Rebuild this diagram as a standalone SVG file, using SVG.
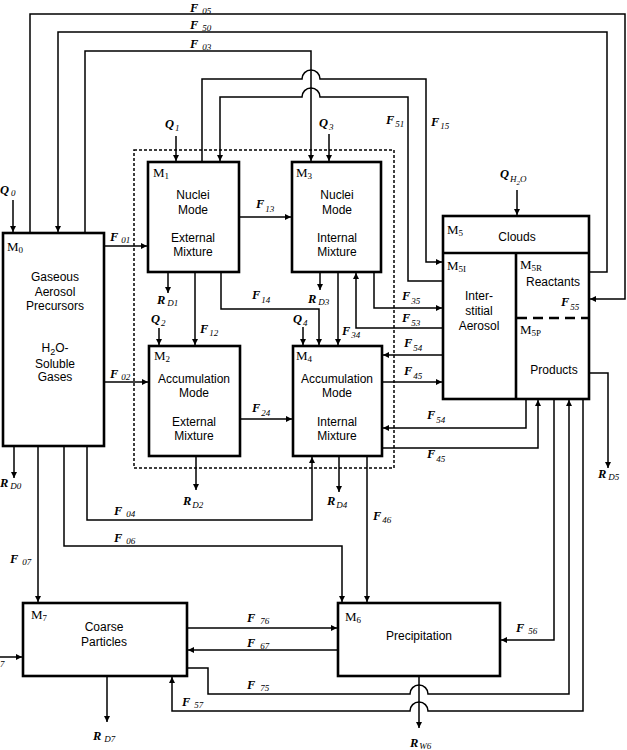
<svg xmlns="http://www.w3.org/2000/svg" width="627" height="750" viewBox="0 0 627 750">
<style>
.box{fill:#fff;stroke:#000;stroke-width:2.6}
.ln{fill:none;stroke:#000;stroke-width:1.5}
.arr{marker-end:url(#ah)}
.t{font-family:"Liberation Sans",Arial,sans-serif;font-size:12px;text-anchor:middle;fill:#000}
.m{font-family:"Liberation Serif","Times New Roman",serif;font-size:13px;fill:#000}
.ms{font-size:9px}
.f{font-family:"Liberation Serif","Times New Roman",serif;font-size:12.5px;font-style:italic;font-weight:bold;fill:#000}
.fs{font-size:9px;font-weight:normal}
</style>
<defs>
<marker id="ah" viewBox="0 0 10 10" refX="10" refY="5" markerWidth="7" markerHeight="6" markerUnits="userSpaceOnUse" orient="auto">
<path d="M0,0 L10,5 L0,10 z" fill="#000"/>
</marker>
</defs>
<rect x="134" y="150" width="260" height="318" fill="none" stroke="#000" stroke-width="1.5" stroke-dasharray="3,2"/>

<g id="connectors">
<path class="ln arr" d="M30,233 V14 H625 V299 H590"/>
<path class="ln arr" d="M589,272 H607 V32 H58 V232"/>
<path class="ln arr" d="M85,233 V51 H311 V161"/>
<path class="ln arr" d="M13,200 V232"/>
<path class="ln arr" d="M202,162 V79 H302 A9,9 0 0 1 320,79 H426 V262 H442"/>
<path class="ln arr" d="M443,281 H408 V97 H320 A9,9 0 0 0 302,97 H220 V161"/>
<path class="ln arr" d="M176,136 V161"/>
<path class="ln arr" d="M329,134 V161"/>
<path class="ln arr" d="M239,217 H291"/>
<path class="ln arr" d="M104,246 H147"/>
<path class="ln arr" d="M104,382 H148"/>
<path class="ln arr" d="M195,272 V345"/>
<path class="ln arr" d="M168,272 V293"/>
<path class="ln arr" d="M159,328 V345"/>
<path class="ln arr" d="M221,272 V309 H319 V345"/>
<path class="ln arr" d="M320,272 V290"/>
<path class="ln arr" d="M303,327 V345"/>
<path class="ln arr" d="M338,272 V345"/>
<path class="ln arr" d="M443,328 H356 V273"/>
<path class="ln arr" d="M374,272 V308 H442"/>
<path class="ln arr" d="M240,419 H292"/>
<path class="ln arr" d="M443,355 H383"/>
<path class="ln arr" d="M382,382 H442"/>
<path class="ln arr" d="M526,399 V428 H383"/>
<path class="ln arr" d="M382,448 H538 V400"/>
<path class="ln arr" d="M554,399 V640 H501"/>
<path class="ln arr" d="M187,668 H208 V694 H410 A9,9 0 0 1 428,694 H569 V400"/>
<path class="ln arr" d="M583,399 V711 H428 A9,9 0 0 0 410,711 H172 V677"/>
<path class="ln arr" d="M589,373 H608 V468"/>
<path class="ln arr" d="M38,446 V602"/>
<path class="ln arr" d="M14,446 V478"/>
<path class="ln arr" d="M64,446 V546 H342 V602"/>
<path class="ln arr" d="M87,446 V520 H312 V457"/>
<path class="ln arr" d="M196,456 V490"/>
<path class="ln arr" d="M339,456 V492"/>
<path class="ln arr" d="M367,456 V602"/>
<path class="ln arr" d="M187,628 H337"/>
<path class="ln arr" d="M338,650 H188"/>
<path class="ln arr" d="M419,676 V728"/>
<path class="ln arr" d="M107,676 V722"/>
<path class="ln arr" d="M0,657 H22"/>
<path class="ln arr" d="M517,190 V215"/>
<path class="ln arr" d="M568,318 V343"/>
<path class="ln arr" d="M506,346 H533"/>
<path class="ln arr" d="M532,382 H504"/>
</g>

<g id="M0">
<rect class="box" x="3" y="233" width="101" height="213"/>
<text class="m" x="7" y="251">M<tspan class="ms" dy="2">0</tspan></text>
<text class="t" x="55" y="281">Gaseous</text>
<text class="t" x="55" y="296">Aerosol</text>
<text class="t" x="55" y="310">Precursors</text>
<text class="t" x="55" y="352">H<tspan font-size="9" dy="3">2</tspan><tspan dy="-3">O-</tspan></text>
<text class="t" x="55" y="368">Soluble</text>
<text class="t" x="55" y="381">Gases</text>
</g>

<g id="M1">
<rect class="box" x="148" y="162" width="91" height="110"/>
<text class="m" x="153" y="177">M<tspan class="ms" dy="2">1</tspan></text>
<text class="t" x="193" y="199">Nuclei</text>
<text class="t" x="193" y="214">Mode</text>
<text class="t" x="193" y="242">External</text>
<text class="t" x="193" y="256">Mixture</text>
</g>

<g id="M3">
<rect class="box" x="292" y="162" width="89" height="110"/>
<text class="m" x="296" y="177">M<tspan class="ms" dy="2">3</tspan></text>
<text class="t" x="337" y="199">Nuclei</text>
<text class="t" x="337" y="214">Mode</text>
<text class="t" x="337" y="242">Internal</text>
<text class="t" x="337" y="256">Mixture</text>
</g>

<g id="M2">
<rect class="box" x="149" y="346" width="91" height="110"/>
<text class="m" x="154" y="360">M<tspan class="ms" dy="2">2</tspan></text>
<text class="t" x="194" y="383">Accumulation</text>
<text class="t" x="194" y="397">Mode</text>
<text class="t" x="194" y="426">External</text>
<text class="t" x="194" y="440">Mixture</text>
</g>

<g id="M4">
<rect class="box" x="293" y="346" width="89" height="110"/>
<text class="m" x="296" y="360">M<tspan class="ms" dy="2">4</tspan></text>
<text class="t" x="337" y="383">Accumulation</text>
<text class="t" x="337" y="397">Mode</text>
<text class="t" x="337" y="426">Internal</text>
<text class="t" x="337" y="440">Mixture</text>
</g>

<g id="M5">
<rect class="box" x="443" y="216" width="146" height="183"/>
<line x1="443" y1="253" x2="589" y2="253" stroke="#000" stroke-width="2.6"/>
<line x1="516" y1="253" x2="516" y2="399" stroke="#000" stroke-width="2.6"/>
<line x1="517" y1="318" x2="589" y2="318" stroke="#000" stroke-width="2.6" stroke-dasharray="10,6"/>
<text class="m" x="447" y="234">M<tspan class="ms" dy="2">5</tspan></text>
<text class="t" x="517" y="241">Clouds</text>
<text class="m" x="447" y="270">M<tspan class="ms" dy="2">5I</tspan></text>
<text class="t" x="479" y="300">Inter-</text>
<text class="t" x="479" y="315">stitial</text>
<text class="t" x="479" y="330">Aerosol</text>
<text class="m" x="520" y="269">M<tspan class="ms" dy="2">5R</tspan></text>
<text class="t" x="553" y="286">Reactants</text>
<text class="m" x="520" y="334">M<tspan class="ms" dy="2">5P</tspan></text>
<text class="t" x="554" y="374">Products</text>
</g>

<g id="M7">
<rect class="box" x="23" y="603" width="164" height="73"/>
<text class="m" x="31" y="619">M<tspan class="ms" dy="2">7</tspan></text>
<text class="t" x="104" y="631">Coarse</text>
<text class="t" x="104" y="646">Particles</text>
</g>

<g id="M6">
<rect class="box" x="338" y="603" width="162" height="73"/>
<text class="m" x="345" y="621">M<tspan class="ms" dy="2">6</tspan></text>
<text class="t" x="419" y="640">Precipitation</text>
</g>

<g id="labels">
<text class="f" x="190" y="12">F<tspan class="fs" dx="4" dy="2">05</tspan></text>
<text class="f" x="190" y="29">F<tspan class="fs" dx="4" dy="2">50</tspan></text>
<text class="f" x="190" y="48">F<tspan class="fs" dx="4" dy="2">03</tspan></text>
<text class="f" x="386" y="124">F<tspan class="fs" dx="1" dy="3">51</tspan></text>
<text class="f" x="431" y="126">F<tspan class="fs" dx="1" dy="3">15</tspan></text>
<text class="f" x="165" y="128">Q<tspan class="fs" dx="1" dy="3">1</tspan></text>
<text class="f" x="319" y="127">Q<tspan class="fs" dx="1" dy="3">3</tspan></text>
<text class="f" x="0" y="194">Q<tspan class="fs" dx="2" dy="2">0</tspan></text>
<text class="f" x="500" y="178">Q<tspan class="fs" dx="1" dy="4">H</tspan><tspan font-size="7" font-weight="normal" dy="3">2</tspan><tspan class="fs" dy="-3">O</tspan></text>
<text class="f" x="110" y="241">F<tspan class="fs" dx="3" dy="2">01</tspan></text>
<text class="f" x="110" y="378">F<tspan class="fs" dx="3" dy="2">02</tspan></text>
<text class="f" x="256" y="208">F<tspan class="fs" dx="1" dy="4">13</tspan></text>
<text class="f" x="200" y="333">F<tspan class="fs" dx="1" dy="3">12</tspan></text>
<text class="f" x="252" y="299">F<tspan class="fs" dx="1" dy="4">14</tspan></text>
<text class="f" x="157" y="304">R<tspan class="fs" dx="2" dy="2">D1</tspan></text>
<text class="f" x="151" y="323">Q<tspan class="fs" dx="1" dy="3">2</tspan></text>
<text class="f" x="308" y="303">R<tspan class="fs" dx="2" dy="2">D3</tspan></text>
<text class="f" x="293" y="323">Q<tspan class="fs" dx="1" dy="3">4</tspan></text>
<text class="f" x="342" y="335">F<tspan class="fs" dx="1" dy="3">34</tspan></text>
<text class="f" x="252" y="412">F<tspan class="fs" dx="1" dy="4">24</tspan></text>
<text class="f" x="402" y="300">F<tspan class="fs" dx="1" dy="4">35</tspan></text>
<text class="f" x="402" y="322">F<tspan class="fs" dx="1" dy="4">53</tspan></text>
<text class="f" x="404" y="347">F<tspan class="fs" dx="1" dy="4">54</tspan></text>
<text class="f" x="404" y="375">F<tspan class="fs" dx="1" dy="4">45</tspan></text>
<text class="f" x="427" y="419">F<tspan class="fs" dx="1" dy="4">54</tspan></text>
<text class="f" x="427" y="458">F<tspan class="fs" dx="1" dy="4">45</tspan></text>
<text class="f" x="561" y="306">F<tspan class="fs" dx="1" dy="4">55</tspan></text>
<text class="f" x="598" y="478">R<tspan class="fs" dx="2" dy="2">D5</tspan></text>
<text class="f" x="0" y="487">R<tspan class="fs" dx="2" dy="2">D0</tspan></text>
<text class="f" x="183" y="505">R<tspan class="fs" dx="1" dy="3">D2</tspan></text>
<text class="f" x="114" y="515">F<tspan class="fs" dx="4" dy="2">04</tspan></text>
<text class="f" x="114" y="542">F<tspan class="fs" dx="4" dy="2">06</tspan></text>
<text class="f" x="10" y="563">F<tspan class="fs" dx="4" dy="2">07</tspan></text>
<text class="f" x="327" y="505">R<tspan class="fs" dx="1" dy="3">D4</tspan></text>
<text class="f" x="373" y="520">F<tspan class="fs" dx="1" dy="3">46</tspan></text>
<text class="f" x="247" y="622">F<tspan class="fs" dx="5" dy="2">76</tspan></text>
<text class="f" x="247" y="647">F<tspan class="fs" dx="5" dy="2">67</tspan></text>
<text class="f" x="247" y="689">F<tspan class="fs" dx="5" dy="2">75</tspan></text>
<text class="f" x="182" y="706">F<tspan class="fs" dx="4" dy="2">57</tspan></text>
<text class="f" x="516" y="632">F<tspan class="fs" dx="4" dy="2">56</tspan></text>
<text class="f" x="93" y="740">R<tspan class="fs" dx="3" dy="2">D7</tspan></text>
<text class="f" x="410" y="747">R<tspan class="fs" dx="1" dy="2">W6</tspan></text>
<text class="f" x="0" y="667"><tspan class="fs">7</tspan></text>
</g>
</svg>
